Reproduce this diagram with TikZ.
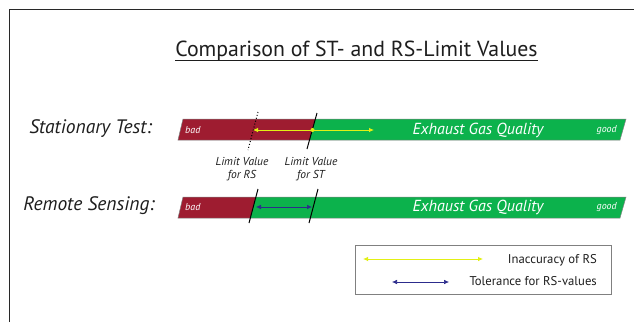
\documentclass[tikz,border=0pt]{standalone}
\usepackage{fontspec}
\setmainfont{PT Sans}
\usetikzlibrary{arrows.meta}
\definecolor{badred}{RGB}{158,28,48}
\definecolor{goodgreen}{RGB}{12,178,76}
\definecolor{inaccyellow}{RGB}{226,240,20}
\definecolor{tolerblue}{RGB}{44,44,140}
\definecolor{framegray}{RGB}{40,40,40}
\definecolor{textgray}{RGB}{30,30,30}
\tikzset{
  frameline/.style={draw=framegray, line width=1.5pt},
  barout/.style={draw=gray, line width=0.5pt},
  rowlabel/.style={font=\fontsize{19.5}{22}\selectfont\itshape, text=textgray, inner sep=0pt},
  bigbartext/.style={text=white, font=\fontsize{16}{18}\selectfont\itshape, inner sep=0pt},
  smallbartext/.style={text=white, font=\fontsize{10}{12}\selectfont\itshape, inner sep=0pt},
  limitlabel/.style={font=\fontsize{11.5}{13}\selectfont\itshape, text=textgray, align=center, inner sep=0pt},
  limitline/.style={draw=black, line width=1pt},
  rsdotted/.style={draw=black, line width=1pt, dotted},
  bothheads/.style={{Latex[length=5pt,width=4.5pt]}-{Latex[length=5pt,width=4.5pt]}, line width=0.8pt},
  legendtext/.style={font=\fontsize{12.7}{15}\selectfont, text=textgray, inner sep=0pt, anchor=base east},
  legendbox/.style={draw=gray, line width=0.8pt},
}
\begin{document}
\begin{tikzpicture}[x=1pt,y=-1pt]
\useasboundingbox (0,0) rectangle (634,322);
\fill[white] (0,0) rectangle (634,322);
% outer frame (runs off the right and bottom edges)
\draw[frameline] (9.5,322) -- (9.5,9.5) -- (634,9.5);

% title
\node[font=\fontsize{21.8}{26}\selectfont, text=textgray, inner sep=0pt, anchor=base] (title) at (356.5,56.7) {Comparison of ST- and RS-Limit Values};
\draw[line width=1.1pt, textgray] ([yshift=-4pt]title.base west) -- ([yshift=-4pt]title.base east);

% ---------- Stationary Test row ----------
\node[rowlabel] (stlabel) at (90.5,129) {Stationary Test:};
\fill[badred]   (183,119) -- (315.3,119) -- (309.5,140) -- (178,140) -- cycle;
\fill[goodgreen](315.3,119) -- (626,119) -- (620,140) -- (309.5,140) -- cycle;
\draw[barout]   (183,119) -- (626,119) -- (620,140) -- (178,140) -- cycle;
\node[smallbartext, anchor=west] (bad1) at (185,130) {bad};
\node[bigbartext] (egq1) at (478,130) {Exhaust Gas Quality};
\node[smallbartext, anchor=east] (good1) at (617,130) {good};

\coordinate (rsTopA) at (258,112);
\coordinate (rsBotA) at (248,150);
\coordinate (stTopA) at (317,113);
\coordinate (stBotA) at (307,149);
\draw[rsdotted]  (rsTopA) -- (rsBotA);
\draw[limitline] (stTopA) -- (stBotA);

\coordinate (inaccL) at (253,130);
\coordinate (inaccM) at (312.5,130);
\coordinate (inaccR) at (374,130);
\draw[bothheads, inaccyellow] (inaccL) -- (inaccR);
\fill[inaccyellow] (inaccM) circle (2pt);

% limit value labels
\node[limitlabel] (limrs) at (242,169.5) {Limit Value\\for RS};
\node[limitlabel] (limst) at (311,169.5) {Limit Value\\for ST};

% ---------- Remote Sensing row ----------
\node[rowlabel] (rslabel) at (89,206) {Remote Sensing:};
\fill[badred]   (183,197) -- (255.9,197) -- (250.3,218) -- (178,218) -- cycle;
\fill[goodgreen](255.9,197) -- (626,197) -- (620,218) -- (250.3,218) -- cycle;
\draw[barout]   (183,197) -- (626,197) -- (620,218) -- (178,218) -- cycle;
\node[smallbartext, anchor=west] (bad2) at (185,207.5) {bad};
\node[bigbartext] (egq2) at (478,207.5) {Exhaust Gas Quality};
\node[smallbartext, anchor=east] (good2) at (617,207.5) {good};

\coordinate (rsTopB) at (258,189);
\coordinate (rsBotB) at (249,223);
\coordinate (stTopB) at (318,189);
\coordinate (stBotB) at (309,223);
\draw[limitline] (rsTopB) -- (rsBotB);
\draw[limitline] (stTopB) -- (stBotB);

\coordinate (tolL) at (256,207);
\coordinate (tolR) at (312,207);
\draw[bothheads, tolerblue, line width=0.6pt] (tolL) -- (tolR);

% ---------- legend ----------
\draw[legendbox] (355,245) rectangle (611,294);
\coordinate (legYL) at (363,259);
\coordinate (legYR) at (483,259);
\draw[bothheads, inaccyellow] (legYL) -- (legYR);
\node[legendtext] (leginacc) at (597,263) {Inaccuracy of RS};
\coordinate (legBL) at (392,282);
\coordinate (legBR) at (449,282);
\draw[bothheads, tolerblue, line width=0.6pt] (legBL) -- (legBR);
\node[legendtext] (legtol) at (597,285.5) {Tolerance for RS-values};
\end{tikzpicture}
\end{document}
